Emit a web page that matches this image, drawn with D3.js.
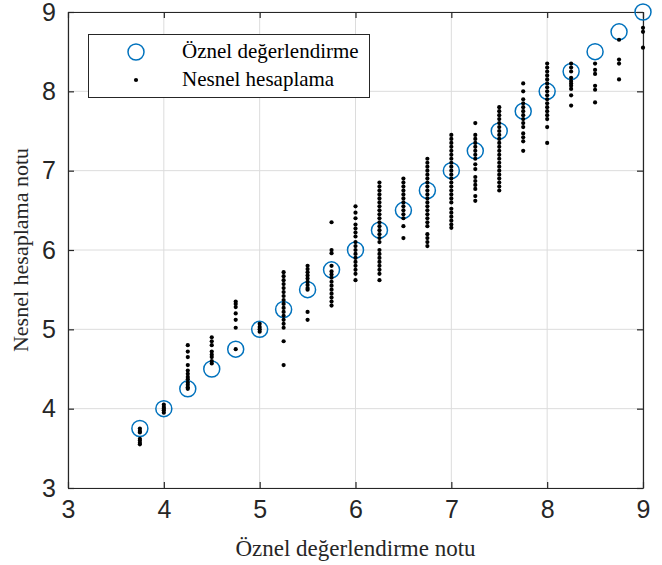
<!DOCTYPE html>
<html><head><meta charset="utf-8">
<script src="https://cdn.jsdelivr.net/npm/d3@7"></script>
<style>body{margin:0;background:#fff}</style>
</head><body>
<svg id="c" width="662" height="565"></svg>
<script>
const xTicks = [3,4,5,6,7,8,9];
const yTicks = [3,4,5,6,7,8,9];
const subjective = [3.75,4,4.25,4.5,4.75,5,5.25,5.5,5.75,6,6.25,6.5,6.75,7,7.25,7.5,7.75,8,8.25,8.5,8.75,9];
const objectiveGroups = [
  [3.75,3.72,3.7,3.62,3.6,3.57,3.55],
  [4.05,4.02,4.0,3.98,3.95],
  [4.8,4.72,4.65,4.55,4.48,4.44,4.4,4.37,4.33,4.3,4.27,4.25],
  [4.9,4.85,4.8,4.72,4.68,4.65,4.6,4.57],
  [5.35,5.32,5.28,5.2,5.12,5.02,4.75],
  [5.07,5.03,5.0,4.97],
  [5.72,5.67,5.62,5.57,5.52,5.47,5.42,5.37,5.32,5.27,5.22,5.17,5.12,5.07,5.02,4.85,4.55],
  [5.8,5.76,5.72,5.68,5.64,5.6,5.56,5.52,5.5,5.22,5.12],
  [6.35,6.0,5.96,5.8,5.73,5.69,5.65,5.6,5.55,5.5,5.45,5.4,5.35,5.3],
  [6.55,6.47,6.4,6.32,6.27,6.22,6.17,6.1,6.05,6.0,5.95,5.9,5.85,5.8,5.75,5.7,5.62],
  [6.85,6.8,6.75,6.7,6.65,6.6,6.55,6.5,6.45,6.4,6.35,6.3,6.25,6.2,6.15,6.1,6.0,5.95,5.9,5.85,5.8,5.75,5.7,5.62],
  [6.9,6.85,6.8,6.75,6.7,6.65,6.6,6.55,6.5,6.45,6.4,6.3,6.15],
  [7.15,7.1,7.05,7.0,6.95,6.9,6.85,6.8,6.75,6.7,6.65,6.6,6.55,6.5,6.45,6.4,6.35,6.3,6.2,6.15,6.1,6.05],
  [7.45,7.4,7.35,7.3,7.25,7.2,7.15,7.1,7.05,7.0,6.95,6.9,6.85,6.8,6.75,6.7,6.65,6.6,6.52,6.47,6.42,6.37,6.32,6.28],
  [7.6,7.45,7.4,7.35,7.3,7.25,7.2,7.15,7.08,7.02,6.92,6.87,6.82,6.77,6.68,6.62],
  [7.8,7.75,7.7,7.65,7.6,7.55,7.5,7.45,7.4,7.35,7.3,7.25,7.2,7.15,7.1,7.05,7.0,6.95,6.9,6.85,6.8,6.75],
  [8.1,8.0,7.9,7.85,7.8,7.75,7.7,7.65,7.6,7.55,7.47,7.42,7.37,7.25],
  [8.35,8.3,8.25,8.2,8.15,8.1,8.05,8.0,7.95,7.9,7.85,7.8,7.75,7.7,7.65,7.55,7.35],
  [8.35,8.3,8.25,8.17,8.13,8.1,8.07,8.03,7.95,7.82],
  [8.35,8.27,8.22,8.07,8.02,7.86],
  [8.65,8.4,8.35,8.15],
  [8.8,8.75,8.55]
];
const legendLabels = ["Öznel değerlendirme","Nesnel hesaplama"];
const xTitle = "Öznel değerlendirme notu";
const yTitle = "Nesnel hesaplama notu";

const W=662,H=565, m={l:68,t:12,r:19,b:77};
const svg=d3.select("#c");
const x=d3.scaleLinear().domain([3,9]).range([m.l,W-m.r]);
const y=d3.scaleLinear().domain([3,9]).range([H-m.b,m.t]);
const axisCol="#262626";
const fmt=d3.format("d");

// grid
svg.append("g").selectAll("line").data(xTicks).join("line")
  .attr("x1",d=>x(d)).attr("x2",d=>x(d)).attr("y1",y(3)).attr("y2",y(9))
  .attr("stroke","#dcdcdc").attr("stroke-width",1);
svg.append("g").selectAll("line").data(yTicks).join("line")
  .attr("y1",d=>y(d)).attr("y2",d=>y(d)).attr("x1",x(3)).attr("x2",x(9))
  .attr("stroke","#dcdcdc").attr("stroke-width",1);

// axes
const tl=6;
const ax=(g)=>{g.selectAll(".domain").attr("stroke",axisCol).attr("stroke-width",1.2);
  g.selectAll(".tick line").attr("stroke",axisCol).attr("stroke-width",1.2);
  g.selectAll("text").attr("fill",axisCol).style("font-family","'Liberation Sans',Arial,sans-serif").style("font-size","25px");};
svg.append("g").attr("transform",`translate(0,${y(3)})`)
  .call(d3.axisBottom(x).tickValues(xTicks).tickFormat(fmt).tickSizeInner(-tl).tickSizeOuter(0).tickPadding(12)).call(ax);
svg.append("g").attr("transform",`translate(0,${y(9)})`)
  .call(d3.axisTop(x).tickValues(xTicks).tickSizeInner(-tl).tickSizeOuter(0).tickFormat("")).call(ax);
svg.append("g").attr("transform",`translate(${x(3)},0)`)
  .call(d3.axisLeft(y).tickValues(yTicks).tickFormat(fmt).tickSizeInner(-tl).tickSizeOuter(0).tickPadding(12)).call(ax);
svg.append("g").attr("transform",`translate(${x(9)},0)`)
  .call(d3.axisRight(y).tickValues(yTicks).tickSizeInner(-tl).tickSizeOuter(0).tickFormat("")).call(ax);

// circles
svg.append("g").selectAll("circle").data(subjective).join("circle")
  .attr("cx",d=>x(d)).attr("cy",d=>y(d)).attr("r",8)
  .attr("fill","none").attr("stroke","#0072BD").attr("stroke-width",1.5);

// dots
const pts=[];
objectiveGroups.forEach((g,i)=>g.forEach(v=>pts.push([subjective[i],v])));
svg.append("g").selectAll("circle").data(pts).join("circle")
  .attr("cx",d=>x(d[0])).attr("cy",d=>y(d[1])).attr("r",2.1).attr("fill","#000");

// titles
const serif="'Liberation Serif','Times New Roman',serif";
svg.append("text").attr("x",x(6)).attr("y",556).attr("text-anchor","middle")
  .style("font-family",serif).style("font-size","23px").attr("fill",axisCol).text(xTitle);
svg.append("text").attr("transform",`translate(28,${y(6)}) rotate(-90)`).attr("text-anchor","middle")
  .style("font-family",serif).style("font-size","22px").attr("fill",axisCol).text(yTitle);

// legend
const lg=svg.append("g");
lg.append("rect").attr("x",88.5).attr("y",34.5).attr("width",281).attr("height",63)
  .attr("fill","#fff").attr("stroke",axisCol).attr("stroke-width",1);
lg.append("circle").attr("cx",136).attr("cy",52).attr("r",8).attr("fill","none").attr("stroke","#0072BD").attr("stroke-width",1.5);
lg.append("circle").attr("cx",136).attr("cy",80).attr("r",2.1).attr("fill","#000");
legendLabels.forEach((t,i)=>lg.append("text").attr("x",182).attr("y",52+i*28+6)
  .style("font-family",serif).style("font-size","21px").attr("fill","#000").text(t));
</script>
</body></html>
